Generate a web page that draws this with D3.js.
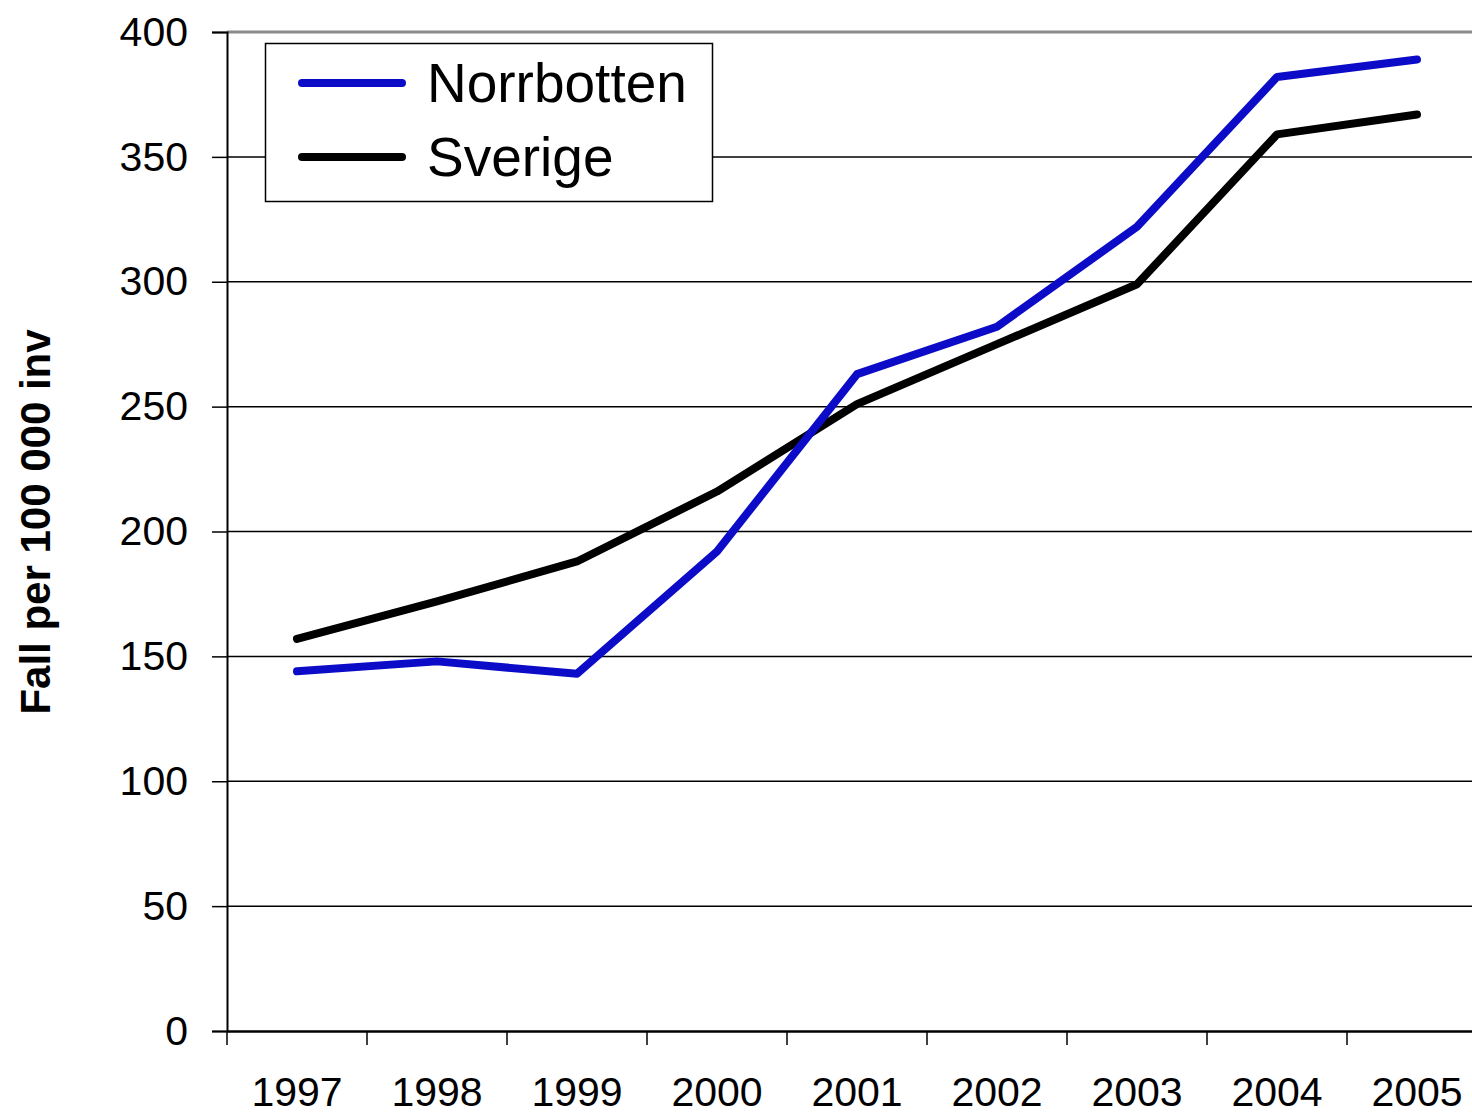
<!DOCTYPE html>
<html>
<head>
<meta charset="utf-8">
<script src="https://cdn.jsdelivr.net/npm/d3@7"></script>
<style>
  body { margin: 0; background: #fff; }
  svg { display: block; font-family: 'Liberation Sans', Arial, sans-serif; }
</style>
</head>
<body>
<script>
// data
const years = ['1997', '1998', '1999', '2000', '2001', '2002', '2003', '2004', '2005'];
const norrbotten = [144, 148, 143, 192, 263, 282, 322, 382, 389];
const sverige = [157, 172, 188, 216, 251, 275, 299, 359, 367];
const yTicks = [0, 50, 100, 150, 200, 250, 300, 350, 400];

const width = 1472;
const height = 1114;
const margin = ({top: 32, left: 227, bottom: 1031, right: 1487});

const svg = d3.select('body')
              .append('svg')
              .attr('width', width)
              .attr('height', height);

const xScale = d3.scaleBand()
                 .domain(years)
                 .range([margin.left, margin.right]);

const yScale = d3.scaleLinear()
                 .domain([0, 400])
                 .range([margin.bottom, margin.top]);

// gridlines
svg.append('g')
   .selectAll('line')
   .data(yTicks.filter(d => d > 0))
   .join('line')
   .attr('x1', margin.left)
   .attr('x2', margin.right)
   .attr('y1', d => yScale(d))
   .attr('y2', d => yScale(d))
   .attr('stroke', d => d == 400 ? '#8a8a8a' : '#000')
   .attr('stroke-width', d => d == 400 ? 3 : 1.5);

// Y axis
const yAxis = d3.axisLeft(yScale).tickValues(yTicks).tickSize(15).tickPadding(24);
const gy = svg.append('g')
   .attr('transform', `translate(${margin.left},0)`)
   .call(yAxis);
gy.select('.domain').attr('stroke-width', 2);
gy.selectAll('.tick line').attr('stroke-width', 1.5);
gy.selectAll('text')
  .attr('font-size', 41)
  .attr('font-family', "'Liberation Sans', Arial, sans-serif")
  .attr('fill', '#000');

// X axis
const xAxis = d3.axisBottom(xScale).tickSize(0).tickPadding(46);
const gx = svg.append('g')
   .attr('transform', `translate(0,${margin.bottom})`)
   .call(xAxis);
gx.select('.domain').attr('stroke-width', 2.5);
gx.selectAll('text')
  .attr('font-size', 41)
  .attr('font-family', "'Liberation Sans', Arial, sans-serif")
  .attr('fill', '#000');

// tick marks between categories
svg.append('g')
   .selectAll('line')
   .data(years)
   .join('line')
   .attr('x1', d => xScale(d))
   .attr('x2', d => xScale(d))
   .attr('y1', margin.bottom)
   .attr('y2', margin.bottom + 14)
   .attr('stroke', '#000')
   .attr('stroke-width', 1.5);

// lines
const line = d3.line()
               .x((d, i) => xScale(years[i]) + xScale.bandwidth() / 2)
               .y(d => yScale(d));

svg.append('path')
   .datum(sverige)
   .attr('d', line)
   .attr('fill', 'none')
   .attr('stroke', '#000')
   .attr('stroke-width', 8)
   .attr('stroke-linejoin', 'round')
   .attr('stroke-linecap', 'round');

svg.append('path')
   .datum(norrbotten)
   .attr('d', line)
   .attr('fill', 'none')
   .attr('stroke', '#0c0cc8')
   .attr('stroke-width', 8)
   .attr('stroke-linejoin', 'round')
   .attr('stroke-linecap', 'round');

// Y axis label
svg.append('text')
   .attr('transform', 'translate(50,522) rotate(-90)')
   .attr('text-anchor', 'middle')
   .attr('font-size', 42)
   .attr('font-weight', 'bold')
   .attr('fill', '#000')
   .text('Fall per 100 000 inv');

// legend
const legend = svg.append('g');
legend.append('rect')
   .attr('x', 265.5)
   .attr('y', 43.5)
   .attr('width', 447)
   .attr('height', 158)
   .attr('fill', '#fff')
   .attr('stroke', '#000')
   .attr('stroke-width', 1.5);

const legendItems = [
  {name: 'Norrbotten', color: '#0c0cc8'},
  {name: 'Sverige', color: '#000'}
];
legend.selectAll('line')
   .data(legendItems)
   .join('line')
   .attr('x1', 302)
   .attr('x2', 402)
   .attr('y1', (d, i) => 83 + i * 74)
   .attr('y2', (d, i) => 83 + i * 74)
   .attr('stroke', d => d.color)
   .attr('stroke-width', 8)
   .attr('stroke-linecap', 'round');
legend.selectAll('text')
   .data(legendItems)
   .join('text')
   .attr('x', 427)
   .attr('y', (d, i) => 102 + i * 74)
   .attr('font-size', 55)
   .attr('fill', '#000')
   .text(d => d.name);
</script>
</body>
</html>
